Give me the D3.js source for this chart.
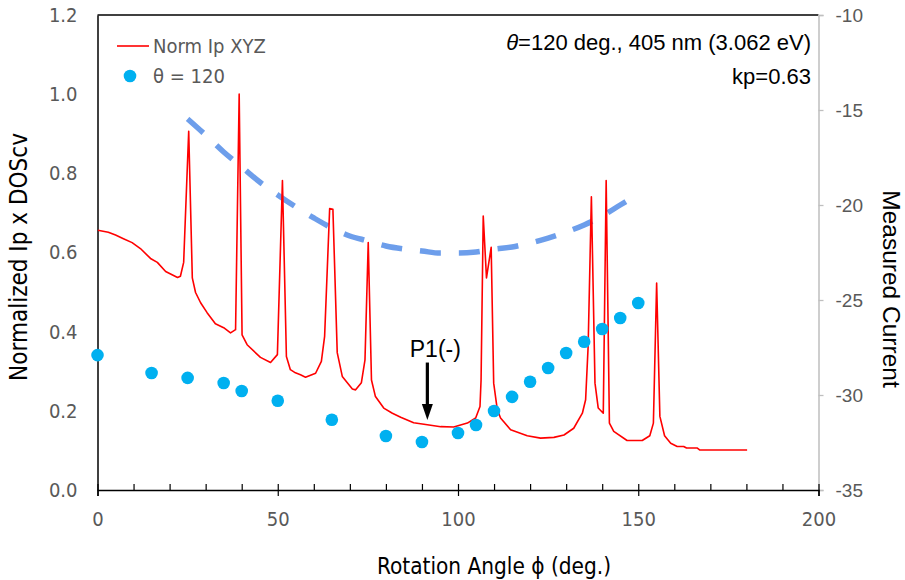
<!DOCTYPE html>
<html>
<head>
<meta charset="utf-8">
<script src="https://cdn.jsdelivr.net/npm/d3@7"></script>
<style>
  html, body { margin: 0; padding: 0; background: #fff; }
  svg { display: block; }
</style>
</head>
<body>
<svg id="chart" width="905" height="580"></svg>
<script>
// ---- data ----
const redX = [0.1,3.0,5.0,7.2,9.6,11.9,14.7,16.6,18.9,22.2,23.0,23.9,25.3,26.3,27.2,28.6,30.4,32.7,35.0,36.9,38.3,39.3,40.1,41.5,45.2,48.0,49.9,51.3,52.4,53.5,54.9,56.3,57.7,60.5,62.1,63.0,64.4,65.3,66.5,67.9,70.7,71.6,73.2,74.2,75.1,76.0,77.1,79.4,81.8,84.1,87.7,91.5,95.2,98.8,102.6,104.9,106.1,106.4,107.0,107.9,109.2,109.9,110.9,111.8,114.6,119.2,122.9,126.6,129.4,132.1,134.5,135.4,136.1,137.0,138.0,138.9,140.3,141.1,142.0,143.2,146.9,151.1,153.2,154.2,155.1,156.0,157.3,159.0,160.8,162.6,163.4,166.4,167.1,175.6,180.2];
const redY = [0.656,0.651,0.644,0.635,0.625,0.610,0.585,0.575,0.552,0.537,0.540,0.575,0.906,0.536,0.499,0.473,0.448,0.420,0.410,0.397,0.405,1.000,0.392,0.367,0.335,0.322,0.342,0.782,0.337,0.304,0.296,0.291,0.285,0.295,0.325,0.388,0.711,0.709,0.347,0.287,0.255,0.253,0.271,0.329,0.625,0.278,0.236,0.207,0.194,0.184,0.170,0.165,0.160,0.159,0.169,0.182,0.211,0.278,0.692,0.536,0.613,0.270,0.203,0.182,0.152,0.137,0.131,0.133,0.139,0.156,0.194,0.228,0.363,0.741,0.270,0.207,0.194,0.782,0.169,0.148,0.125,0.125,0.137,0.169,0.523,0.186,0.137,0.118,0.110,0.110,0.106,0.106,0.101,0.101,0.101];

const dotX = [0,15,25,35,40,50,65,80,90,100,105,110,115,120,125,130,135,140,145,150];
const dotY = [-27.9,-28.84,-29.1,-29.37,-29.79,-30.3,-31.3,-32.16,-32.47,-32.0,-31.58,-30.84,-30.1,-29.3,-28.58,-27.79,-27.2,-26.53,-25.95,-25.16];

const trendX = [25,30,35,40,45,50,55,60,65,70,75,80,85,90,95,100,105,110,115,120,125,130,135,140,145,150];
const trendY = [-15.47,-16.32,-17.21,-18.0,-18.79,-19.47,-20.1,-20.68,-21.21,-21.63,-21.89,-22.16,-22.32,-22.42,-22.53,-22.53,-22.47,-22.32,-22.21,-22.0,-21.74,-21.42,-21.05,-20.58,-20.0,-19.42];

const xTicks = [0,50,100,150,200];
const xMinorTicks = [0,10,20,30,40,50,60,70,80,90,100,110,120,130,140,150,160,170,180,190,200];
const yLeftTicks = [0,0.2,0.4,0.6,0.8,1.0,1.2];
const yRightTicks = [-35,-30,-25,-20,-15,-10];

const legendRed = "Norm Ip XYZ";
const legendDot = "\u03b8 = 120";
const noteLine2 = "kp=0.63";
const annotText = "P1(-)";
const annotX = 91.5, annotTop = 0.322, annotTip = 0.177;

// ---- drawing ----
const svg = d3.select("#chart");
const narrow = "'Liberation Sans Narrow', 'DejaVu Sans Condensed', 'Liberation Sans', sans-serif";
const sans = "'Liberation Sans', Arial, sans-serif";

const x = d3.scaleLinear().domain([0,200]).range([97.5,818.5]);
const yL = d3.scaleLinear().domain([0,1.2]).range([490,15]);
const yR = d3.scaleLinear().domain([-35,-10]).range([490,15]);

// top border
svg.append("line").attr("x1",x(0)).attr("x2",x(200)).attr("y1",15).attr("y2",15)
  .attr("stroke","#000").attr("stroke-width",1.3);

// right axis (gray)
const gR = svg.append("g").attr("transform",`translate(${x(200)},0)`)
  .call(d3.axisRight(yR).tickValues(yRightTicks).tickSize(5).tickPadding(12).tickFormat(d=>String(d)));
gR.select(".domain").attr("stroke","#bfbfbf").attr("stroke-width",1.5);
gR.selectAll(".tick line").attr("stroke","#bfbfbf").attr("stroke-width",1.3);
gR.selectAll(".tick text").attr("fill","#595959").style("font-family",sans).style("font-size","19px");

// left axis
const gL = svg.append("g").attr("transform",`translate(${x(0)},0)`)
  .call(d3.axisLeft(yL).tickValues(yLeftTicks).tickSize(0).tickPadding(20).tickFormat(d3.format(".1f")));
gL.select(".domain").attr("stroke","#000").attr("stroke-width",1.5);
gL.selectAll(".tick text").attr("fill","#595959").style("font-family",narrow).style("font-size","20px");

// bottom axis: minor ticks up, major ticks down with labels
const gBm = svg.append("g").attr("transform",`translate(0,490)`)
  .call(d3.axisTop(x).tickValues(xMinorTicks).tickSize(6).tickFormat(""));
gBm.select(".domain").remove();
gBm.selectAll(".tick line").attr("stroke","#000").attr("stroke-width",1.2);
const gB = svg.append("g").attr("transform",`translate(0,490)`)
  .call(d3.axisBottom(x).tickValues(xTicks).tickSize(6).tickPadding(16).tickFormat(d=>String(d)));
gB.select(".domain").attr("stroke","#000").attr("stroke-width",1.5);
gB.selectAll(".tick line").attr("stroke","#000").attr("stroke-width",1.2);
gB.selectAll(".tick text").attr("fill","#595959").style("font-family",narrow).style("font-size","20px");

// dashed trend curve
const trendData = trendX.map((d,i)=>[d,trendY[i]]);
const trendLine = d3.line().x(d=>x(d[0])).y(d=>yR(d[1])).curve(d3.curveMonotoneX);
svg.append("path").datum(trendData)
  .attr("d", trendLine)
  .attr("fill","none").attr("stroke","#6d9eeb").attr("stroke-width",5.5)
  .attr("stroke-dasharray","21,18");

// red line
const redData = redX.map((d,i)=>[d,redY[i]]);
svg.append("path").datum(redData)
  .attr("d", d3.line().x(d=>x(d[0])).y(d=>yL(d[1])))
  .attr("fill","none").attr("stroke","#ff0000").attr("stroke-width",1.6).attr("stroke-linejoin","round");

// dots
svg.append("g").selectAll("circle").data(dotX.map((d,i)=>[d,dotY[i]])).join("circle")
  .attr("cx",d=>x(d[0])).attr("cy",d=>yR(d[1])).attr("r",6.3).attr("fill","#00b0f0");

// legend
svg.append("line").attr("x1",117).attr("x2",149).attr("y1",46).attr("y2",46)
  .attr("stroke","#ff0000").attr("stroke-width",1.6);
svg.append("text").attr("x",153).attr("y",46).attr("dy","0.35em").text(legendRed)
  .attr("fill","#595959").style("font-family",narrow).style("font-size","20px");
svg.append("circle").attr("cx",130).attr("cy",76).attr("r",6.3).attr("fill","#00b0f0");
svg.append("text").attr("x",153).attr("y",76).attr("dy","0.35em").text(legendDot)
  .attr("fill","#595959").style("font-family",narrow).style("font-size","20px");

// top-right note
const note1 = svg.append("text").attr("x",811).attr("y",42).attr("dy","0.35em")
  .attr("text-anchor","end").style("font-family",sans).style("font-size","22px").attr("fill","#000");
note1.append("tspan").style("font-style","italic").text("\u03b8");
note1.append("tspan").text("=120 deg., 405 nm (3.062 eV)");
svg.append("text").attr("x",811).attr("y",76).attr("dy","0.35em").attr("text-anchor","end")
  .style("font-family",sans).style("font-size","22px").attr("fill","#000").text(noteLine2);

// annotation
svg.append("text").attr("x",x(annotX)+8).attr("y",357).attr("text-anchor","middle")
  .style("font-family",sans).style("font-size","23px").attr("fill","#000").text(annotText);
const ax = x(annotX), ay0 = yL(annotTop), ay1 = yL(annotTip);
svg.append("line").attr("x1",ax).attr("x2",ax).attr("y1",ay0).attr("y2",ay1-14)
  .attr("stroke","#000").attr("stroke-width",3.2);
svg.append("path").attr("d",`M${ax-5.5},${ay1-16} L${ax+5.5},${ay1-16} L${ax},${ay1} Z`).attr("fill","#000");

// axis titles
svg.append("text").attr("transform","translate(19,257) rotate(-90)").attr("text-anchor","middle")
  .attr("dy","0.35em").style("font-family",narrow).style("font-size","24px").attr("fill","#000")
  .text("Normalized Ip x DOScv");
svg.append("text").attr("transform","translate(892,289) rotate(90)").attr("text-anchor","middle")
  .attr("dy","0.35em").style("font-family",sans).style("font-size","24.5px").attr("fill","#000")
  .text("Measured Current");
svg.append("text").attr("x",494).attr("y",566).attr("text-anchor","middle").attr("dy","0.35em")
  .style("font-family",narrow).style("font-size","22.4px").attr("fill","#000")
  .text("Rotation Angle \u03d5 (deg.)");
</script>
</body>
</html>
